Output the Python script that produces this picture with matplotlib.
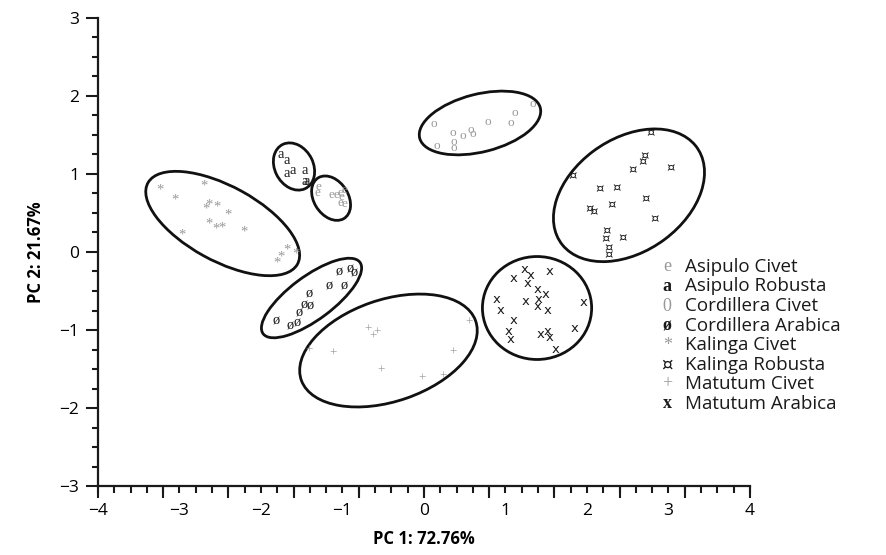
import numpy as np
import matplotlib
matplotlib.use("Agg")
import matplotlib.pyplot as plt
from matplotlib.patches import Ellipse

# point scores (PC1, PC2) per group
asipulo_civet_x = [-1.30, -1.31, -1.14, -1.08, -1.02, -0.98, -1.01, -0.98, -1.02]
asipulo_civet_y = [0.83, 0.76, 0.73, 0.73, 0.76, 0.79, 0.71, 0.62, 0.63]

asipulo_robusta_x = [-1.755, -1.68, -1.69, -1.61, -1.46, -1.47, -1.44]
asipulo_robusta_y = [1.244, 1.167, 1.00, 1.04, 1.05, 0.90, 0.91]

cordillera_civet_x = [0.123, 0.156, 0.352, 0.36, 0.368, 0.475, 0.573, 0.605, 0.777, 1.064, 1.12, 1.337]
cordillera_civet_y = [1.637, 1.363, 1.53, 1.414, 1.337, 1.49, 1.57, 1.51, 1.67, 1.657, 1.778, 1.897]

cordillera_arabica_x = [-1.816, -1.636, -1.55, -1.53, -1.476, -1.40, -1.41, -1.166, -0.98, -1.04, -0.908, -0.859]
cordillera_arabica_y = [-0.881, -0.949, -0.914, -0.778, -0.679, -0.692, -0.538, -0.436, -0.436, -0.26, -0.22, -0.273]

kalinga_civet_x = [-3.24, -3.06, -2.70, -2.64, -2.67, -2.54, -2.41, -2.64, -2.55, -2.48, -2.21, -2.97,
                   -1.68, -1.57, -1.75, -1.81]
kalinga_civet_y = [0.79, 0.67, 0.85, 0.60, 0.55, 0.57, 0.47, 0.36, 0.29, 0.31, 0.25, 0.22,
                   0.03, -0.02, -0.07, -0.14]

kalinga_robusta_x = [2.785, 2.712, 2.683, 3.027, 2.561, 1.82, 2.16, 2.364, 2.724, 2.028, 2.077, 2.303,
                     2.834, 2.242, 2.233, 2.438, 2.261, 2.261]
kalinga_robusta_y = [1.53, 1.23, 1.158, 1.086, 1.051, 0.974, 0.808, 0.829, 0.679, 0.56, 0.517, 0.603,
                     0.432, 0.273, 0.167, 0.183, 0.06, -0.038]

matutum_civet_x = [-1.407, -1.12, -0.683, -0.58, -0.63, -0.528, -0.028, 0.237, 0.352, 0.548]
matutum_civet_y = [-1.265, -1.308, -1.0, -1.035, -1.09, -1.522, -1.62, -1.60, -1.286, -0.901]

matutum_arabica_x = [1.231, 1.309, 1.104, 1.546, 1.272, 1.39, 1.493, 0.892, 0.941, 1.252, 1.402, 1.39,
                     1.518, 1.096, 1.955, 1.034, 1.064, 1.432, 1.518, 1.537, 1.853, 1.616]
matutum_arabica_y = [-0.222, -0.295, -0.337, -0.256, -0.401, -0.487, -0.542, -0.615, -0.744, -0.637,
                     -0.615, -0.701, -0.744, -0.872, -0.65, -1.013, -1.119, -1.064, -1.022, -1.094,
                     -0.978, -1.247]

labels = ["Asipulo Civet", "Asipulo Robusta", "Cordillera Civet", "Cordillera Arabica",
          "Kalinga Civet", "Kalinga Robusta", "Matutum Civet", "Matutum Arabica"]
symbols = ["e", "a", "0", "ø", "*", "¤", "+", "x"]
plot_symbols = ["e", "a", "o", "ø", "*", "¤", "+", "x"]

# confidence ellipses: centre x, centre y, width, height, angle
ell_cx = [-1.14, -1.595, 0.687, -1.38, -2.47, 2.515, -0.436, 1.387]
ell_cy = [0.69, 1.096, 1.654, -0.59, 0.365, 0.727, -1.263, -0.718]
ell_w = [0.61, 0.63, 1.53, 1.50, 2.11, 2.07, 2.27, 1.34]
ell_h = [0.425, 0.475, 0.74, 0.55, 0.95, 1.43, 1.30, 1.32]
ell_a = [-60, -65, 15, 38, -30, 38, 20, 0]

xs = [asipulo_civet_x, asipulo_robusta_x, cordillera_civet_x, cordillera_arabica_x,
      kalinga_civet_x, kalinga_robusta_x, matutum_civet_x, matutum_arabica_x]
ys = [asipulo_civet_y, asipulo_robusta_y, cordillera_civet_y, cordillera_arabica_y,
      kalinga_civet_y, kalinga_robusta_y, matutum_civet_y, matutum_arabica_y]

GRAY = "#999999"
DARK = "#1a1a1a"
colors = [GRAY, DARK, GRAY, DARK, GRAY, DARK, GRAY, DARK]

plt.rcParams["font.family"] = ["Open Sans", "DejaVu Sans"]

fig = plt.figure(figsize=(8.86, 5.55), dpi=100)
ax = fig.add_axes([0.1106, 0.1243, 0.7359, 0.8433])

# markers are glyphs
for i in range(len(labels)):
    fam = ["DejaVu Sans"] if plot_symbols[i] in ("¤", "x") else ["Liberation Serif", "DejaVu Serif"]
    size = {"*": 10.5, "a": 10.5, "ø": 10.5}.get(plot_symbols[i], 9.5)
    for x, y in zip(xs[i], ys[i]):
        ax.text(x, y, plot_symbols[i], color=colors[i], fontsize=size, family=fam,
                ha="center", va="center")
    ax.add_patch(Ellipse((ell_cx[i], ell_cy[i]), ell_w[i], ell_h[i], angle=ell_a[i],
                         fill=False, ec="#111111", lw=2.0))

ax.set_xlim(-4, 4)
ax.set_ylim(-3, 3)
for s in ("top", "right"):
    ax.spines[s].set_visible(False)
for s in ("left", "bottom"):
    ax.spines[s].set_linewidth(1.6)
    ax.spines[s].set_color(DARK)

ax.set_xticks(np.arange(-4, 5, 1))
ax.set_xticks(np.arange(-4, 4.01, 0.2), minor=True)
ax.set_yticks(np.arange(-3, 4, 1))
ax.set_yticks(np.arange(-3, 3.01, 0.25), minor=True)
ax.tick_params(axis="x", which="both", direction="out", length=5, width=1.5, color=DARK,
               labelsize=12.5, pad=7)
ax.tick_params(axis="y", which="major", direction="out", length=8.5, width=1.5, color=DARK,
               labelsize=12.5, pad=5)
ax.tick_params(axis="y", which="minor", direction="out", length=4.5, width=1.5, color=DARK)

# long x ticks every 0.8
sec = ax.secondary_xaxis("bottom")
sec.set_xticks(np.arange(-4, 4.01, 0.8))
sec.set_xticklabels([])
sec.tick_params(direction="out", length=8.5, width=1.5, color=DARK)
sec.spines["bottom"].set_visible(False)

ax.set_xlabel("PC 1: 72.76%", fontsize=12, fontweight="bold", labelpad=8)
ax.set_ylabel("PC 2: 21.67%", fontsize=12, fontweight="bold", labelpad=10)

# legend drawn as glyph + label
for i, lab in enumerate(labels):
    yy = 0.468 - i * 0.0417
    bold = colors[i] == DARK and symbols[i] != "¤"
    fam = ["DejaVu Sans"] if symbols[i] == "¤" else ["Liberation Serif", "DejaVu Serif"]
    ax.text(0.873, yy, symbols[i], transform=ax.transAxes, color=colors[i], family=fam,
            fontsize=13, fontweight="bold" if bold else "normal", ha="center", va="center")
    ax.text(0.900, yy, lab, transform=ax.transAxes, color=DARK, fontsize=13.5,
            ha="left", va="center", clip_on=False)

fig.savefig("out.png", dpi=100)
